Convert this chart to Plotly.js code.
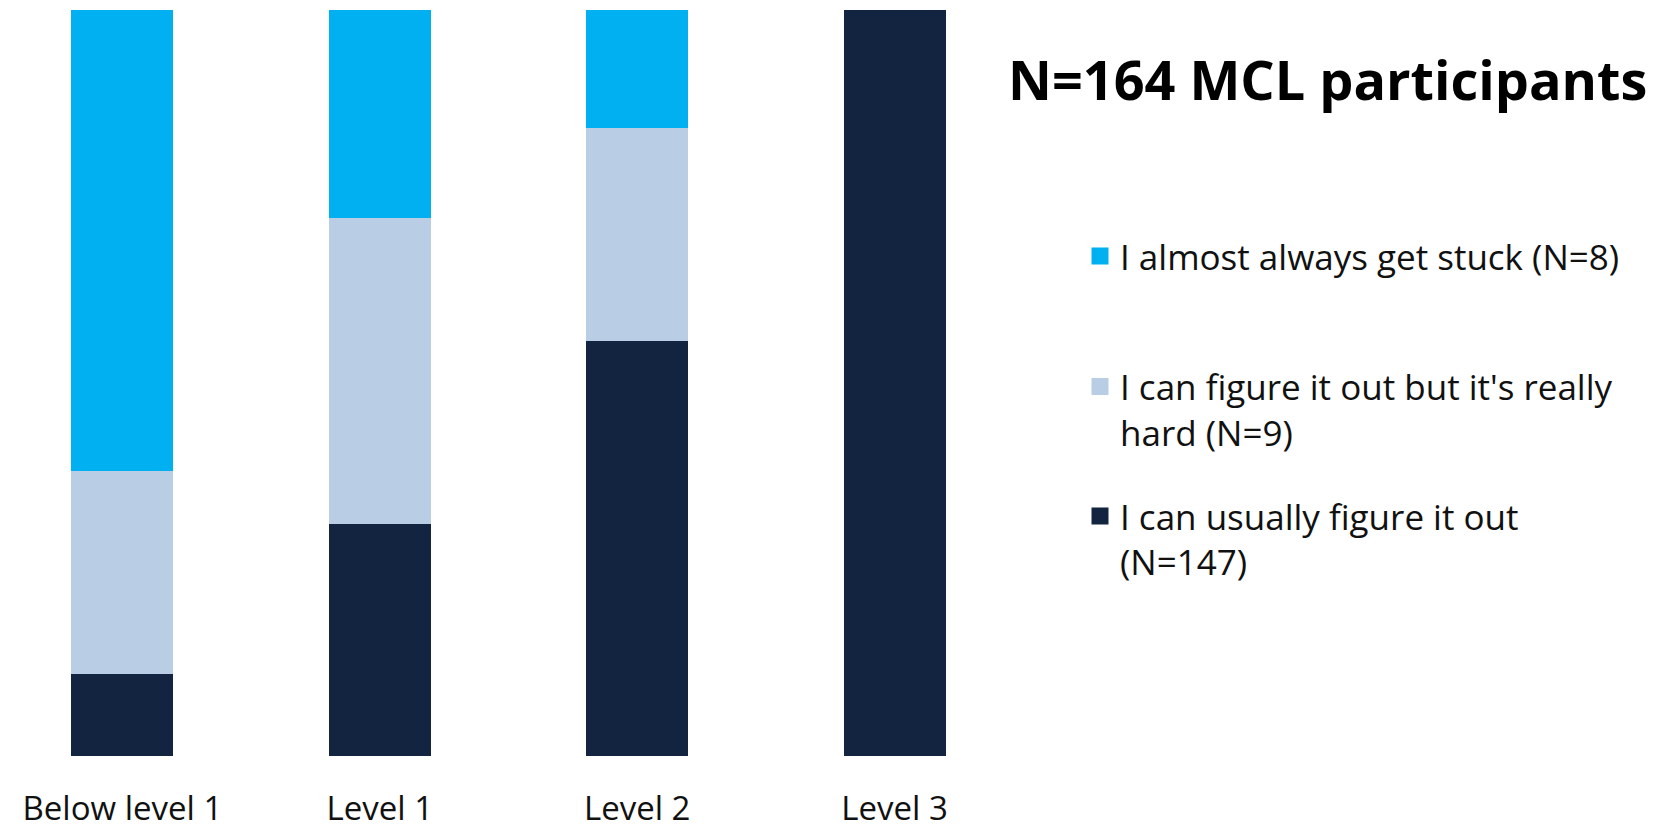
<!DOCTYPE html>
<html>
<head>
<meta charset="utf-8">
<script src="https://cdn.plot.ly/plotly-3.0.1.min.js"></script>
<style>html,body{margin:0;padding:0;background:#fff;}#chart{width:1668px;height:830px;}</style>
</head>
<body>
<div id="chart"></div>
<script>
// Data (percent of participants within each level)
const categories = ["Below level 1", "Level 1", "Level 2", "Level 3"];
const usuallyFigureOut = [11.3, 31.5, 56.0, 100];   // dark navy
const figureButHard   = [27.2, 41.0, 28.5, 0];      // light blue
const almostAlwaysStuck = [61.5, 27.5, 15.5, 0];    // cyan
const seriesNames = [
  "I almost always get stuck (N=8)",
  "I can figure it out but it's really<br>hard (N=9)",
  "I can usually figure it out<br>(N=147)"
];
const chartTitle = "N=164 MCL participants";

const C_CYAN = "#00B0F0", C_LIGHT = "#B9CDE5", C_DARK = "#12243F";
const BAR_W = 0.377;
const FONT = "Open Sans, Lato, sans-serif";

// outline only on non-empty segments (keeps zero-height segments invisible)
function outline(vals) { return vals.map(v => (v > 0 ? 5 : 0)); }

const traces = [
  {type: "bar", x: categories, y: usuallyFigureOut, name: seriesNames[2], legend: "legend3",
   width: BAR_W, marker: {color: C_DARK, line: {color: C_DARK, width: outline(usuallyFigureOut)}}, hoverinfo: "none"},
  {type: "bar", x: categories, y: figureButHard, name: seriesNames[1], legend: "legend2",
   width: BAR_W, marker: {color: C_LIGHT, line: {color: C_LIGHT, width: outline(figureButHard)}}, hoverinfo: "none"},
  {type: "bar", x: categories, y: almostAlwaysStuck, name: seriesNames[0], legend: "legend",
   width: BAR_W, marker: {color: C_CYAN, line: {color: C_CYAN, width: outline(almostAlwaysStuck)}}, hoverinfo: "none"}
];

function legendAt(yTopPx) {
  return {
    xref: "container", yref: "container",
    x: 1080 / 1668, xanchor: "left",
    y: 1 - yTopPx / 830, yanchor: "top",
    bgcolor: "rgba(0,0,0,0)", borderwidth: 0,
    valign: "top",
    font: {family: FONT, size: 35, color: "#111"}
  };
}

const layout = {
  width: 1668, height: 830,
  margin: {l: 0, r: 668, t: 10, b: 74, pad: 0},
  paper_bgcolor: "#fff", plot_bgcolor: "#fff",
  barmode: "stack",
  showlegend: true,
  title: {
    text: chartTitle,
    xref: "container", yref: "container",
    x: 1008 / 1668, xanchor: "left",
    y: 1 - 81 / 830, yanchor: "middle",
    font: {family: FONT, size: 54, weight: 700, color: "#000"}
  },
  xaxis: {
    type: "category",
    range: [-0.4755, 3.4095],
    showgrid: false, zeroline: false, showline: false,
    ticks: "", ticklabelstandoff: 30,
    tickfont: {family: FONT, size: 33, color: "#111"}
  },
  yaxis: {
    range: [0, 100], visible: false, fixedrange: true
  },
  legend: legendAt(226.75),
  legend2: legendAt(357.25),
  legend3: legendAt(486.75)
};

Plotly.newPlot("chart", traces, layout, {displayModeBar: false, staticPlot: true});
</script>
</body>
</html>
